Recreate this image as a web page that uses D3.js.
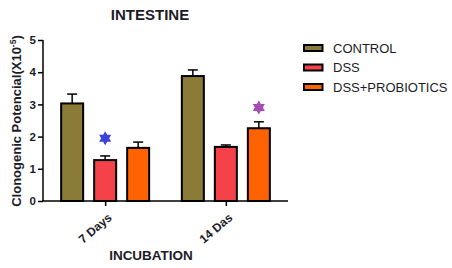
<!DOCTYPE html>
<html>
<head>
<meta charset="utf-8">
<script src="https://cdn.jsdelivr.net/npm/d3@7"></script>
<style>
  body { margin: 0; background: #fff; }
  text { font-family: "Liberation Sans", Arial, sans-serif; fill: #1c1c28; }
</style>
</head>
<body>
<svg id="chart" width="452" height="268"></svg>
<script>
// values
var groups = ["7 Days", "14 Das"]
var series = ["CONTROL", "DSS", "DSS+PROBIOTICS"]
var means = [[3.03, 1.27, 1.65], [3.88, 1.68, 2.26]]
var errors = [[0.29, 0.13, 0.18], [0.19, 0.06, 0.20]]
var colors = ["#8a7b38", "#f5424a", "#ff6200"]
var yTicks = [0, 1, 2, 3, 4, 5]
// significance stars: group, series, height
var stars = [{g: 0, s: 1, v: 1.95, color: "#3b42d8"}, {g: 1, s: 2, v: 2.9, color: "#a64db4"}]

var svg = d3.select("#chart")

var y = d3.scaleLinear().domain([0, 5]).range([201, 40])
var x = d3.scalePoint().domain(groups).range([43, 288]).padding(0.515)
var xs = d3.scaleBand().domain(series).range([-44, 44]).paddingInner(1/3)

// bars
var rows = []
groups.forEach(function(g, gi) {
  series.forEach(function(s, si) {
    rows.push({g: g, s: s, si: si, v: means[gi][si], e: errors[gi][si]})
  })
})

var bar = svg.append("g").selectAll("g").data(rows).enter().append("g")
  .attr("transform", function(d) { return "translate(" + (x(d.g) + xs(d.s)) + ",0)" })

// error bars (upper only)
bar.append("line")
  .attr("x1", xs.bandwidth() / 2).attr("x2", xs.bandwidth() / 2)
  .attr("y1", function(d) { return y(d.v) }).attr("y2", function(d) { return y(d.v + d.e) })
  .attr("stroke", "#000").attr("stroke-width", 1.5)
bar.append("line")
  .attr("x1", xs.bandwidth() / 2 - 5).attr("x2", xs.bandwidth() / 2 + 5)
  .attr("y1", function(d) { return y(d.v + d.e) }).attr("y2", function(d) { return y(d.v + d.e) })
  .attr("stroke", "#000").attr("stroke-width", 1.5)

bar.append("rect")
  .attr("width", xs.bandwidth())
  .attr("y", function(d) { return y(d.v) })
  .attr("height", function(d) { return y(0) - y(d.v) })
  .attr("fill", function(d) { return colors[d.si] })
  .attr("stroke", "#000").attr("stroke-width", 2)

// hexagram stars
function hexagram(r) {
  var pts = []
  for (var i = 0; i < 12; i++) {
    var a = Math.PI / 6 * i
    var rr = i % 2 === 0 ? r : r / Math.sqrt(3)
    pts.push([Math.sin(a) * rr, -Math.cos(a) * rr])
  }
  return "M" + pts.join("L") + "Z"
}
svg.append("g").selectAll("path").data(stars).enter().append("path")
  .attr("d", hexagram(7))
  .attr("transform", function(d) {
    return "translate(" + (x(groups[d.g]) + xs(series[d.s]) + xs.bandwidth() / 2) + "," + y(d.v) + ")"
  })
  .attr("fill", function(d) { return d.color })

// y axis
var yAxis = svg.append("g").attr("transform", "translate(43,0)")
  .call(d3.axisLeft(y).tickValues(yTicks).tickSize(5).tickPadding(2).tickFormat(d3.format("d")))
yAxis.select(".domain").attr("stroke", "#000").attr("stroke-width", 1.5).attr("d", "M0,40V201")
yAxis.selectAll(".tick line").attr("stroke", "#000").attr("stroke-width", 1.5)
yAxis.selectAll(".tick text").attr("font-size", 11.5).attr("font-weight", "bold").attr("fill", "#1c1c28")

// x axis
var xAxis = svg.append("g").attr("transform", "translate(0,201)")
  .call(d3.axisBottom(x).tickSize(5).tickSizeOuter(0))
xAxis.select(".domain").attr("stroke", "#000").attr("stroke-width", 1.5).attr("d", "M42.3,0H288")
xAxis.selectAll(".tick line").attr("stroke", "#000").attr("stroke-width", 1.5)
xAxis.selectAll(".tick text")
  .attr("font-size", 12).attr("font-weight", "bold").attr("fill", "#1c1c28")
  .attr("text-anchor", "end").attr("dy", null).attr("y", 0)
  .attr("transform", "translate(7,18) rotate(-40)")

// titles
svg.append("text").attr("x", 150).attr("y", 20).attr("text-anchor", "middle")
  .attr("font-size", 15).attr("font-weight", "bold").text("INTESTINE")
svg.append("text").attr("x", 151).attr("y", 260).attr("text-anchor", "middle")
  .attr("font-size", 13.5).attr("font-weight", "bold").text("INCUBATION")

var yl = svg.append("text").attr("transform", "translate(21,121) rotate(-90)")
  .attr("text-anchor", "middle").attr("font-size", 13).attr("font-weight", "bold")
yl.append("tspan").text("Clonogenic Potencial(X10")
yl.append("tspan").attr("dy", -5).attr("font-size", 8.5).text("-5")
yl.append("tspan").attr("dy", 5).text(")")

// legend
var legend = svg.append("g").selectAll("g").data(series).enter().append("g")
  .attr("transform", function(d, i) { return "translate(304," + (48 + i * 19.5) + ")" })
legend.append("rect").attr("x", 0).attr("y", -3).attr("width", 18.5).attr("height", 6)
  .attr("fill", function(d, i) { return colors[i] }).attr("stroke", "#000").attr("stroke-width", 2)
legend.append("text").attr("x", 29).attr("y", 4.5).attr("font-size", 13).text(function(d) { return d })
</script>
</body>
</html>
